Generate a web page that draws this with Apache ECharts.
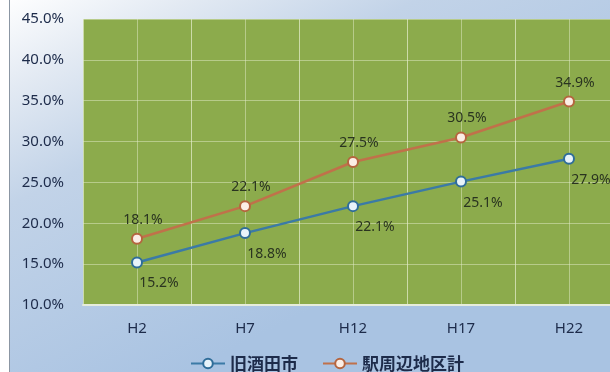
<!DOCTYPE html>
<html>
<head>
<meta charset="utf-8">
<script src="https://cdn.jsdelivr.net/npm/echarts@6/dist/echarts.min.js"></script>
<style>
  html, body { margin: 0; padding: 0; background: #fff; overflow: hidden; }
  #chart { width: 623px; height: 372px; }
</style>
</head>
<body>
<div id="chart"></div>
<script>
const years = ['H2', 'H7', 'H12', 'H17', 'H22'];
const oldSakata = [15.2, 18.8, 22.1, 25.1, 27.9];
const stationArea = [18.1, 22.1, 27.5, 30.5, 34.9];
const seriesNames = ['旧酒田市', '駅周辺地区計'];

const chart = echarts.init(document.getElementById('chart'));
const textFont = '"Noto Sans", "Open Sans", sans-serif';
const gridColor = 'rgba(225,235,200,0.5)';

const option = {
  backgroundColor: {
    type: 'linear', x: 0, y: 0, x2: 0.3, y2: 1,
    colorStops: [
      { offset: 0, color: '#ffffff' },
      { offset: 0.2, color: '#e3eaf3' },
      { offset: 0.45, color: '#c2d3e8' },
      { offset: 1, color: '#a9c3e2' }
    ]
  },
  animation: false,
  grid: {
    left: 83, top: 19, right: 0, bottom: 67,
    show: true, backgroundColor: '#8cab4c', borderWidth: 0
  },
  legend: {
    data: seriesNames,
    left: 185, top: 350,
    itemWidth: 34, itemHeight: 12, itemGap: 24,
    textStyle: {
      fontSize: 17, fontWeight: 'bold', color: '#1d2b4a',
      fontFamily: '"Noto Sans CJK JP", sans-serif'
    }
  },
  xAxis: [{
    type: 'category',
    data: years,
    boundaryGap: true,
    axisLine: { lineStyle: { color: '#e6eddb', width: 2 } },
    axisTick: { show: false },
    axisLabel: { margin: 16, fontSize: 15, color: '#1d2b4a', fontFamily: textFont },
    splitLine: { show: true, lineStyle: { color: gridColor, width: 1 } }
  }, {
    type: 'value',
    min: 0, max: 5, interval: 0.5,
    show: true,
    axisLine: { show: false },
    axisTick: { show: false },
    axisLabel: { show: false },
    splitLine: { show: true, lineStyle: { color: gridColor, width: 1 } }
  }],
  yAxis: {
    type: 'value',
    min: 10, max: 45, interval: 5,
    axisLine: { show: false },
    axisTick: { show: false },
    axisLabel: {
      margin: 19, fontSize: 15, color: '#1d2b4a', fontFamily: textFont,
      formatter: v => v.toFixed(1) + '%'
    },
    splitLine: { lineStyle: { color: gridColor, width: 1 } }
  },
  series: [{
    name: seriesNames[0],
    type: 'line',
    data: oldSakata,
    symbol: 'circle',
    symbolSize: 10,
    lineStyle: { color: '#3b7aa6', width: 2.5 },
    itemStyle: { color: '#e8f3fa', borderColor: '#2f6d99', borderWidth: 2 },
    label: {
      show: true, position: 'bottom', offset: [22, 3],
      fontSize: 14, color: '#2a3420', fontFamily: textFont,
      formatter: p => p.value.toFixed(1) + '%'
    },
    z: 3
  }, {
    name: seriesNames[1],
    type: 'line',
    data: stationArea,
    symbol: 'circle',
    symbolSize: 10,
    lineStyle: { color: '#c0714a', width: 2.5 },
    itemStyle: { color: '#fbeee6', borderColor: '#b5653f', borderWidth: 2 },
    label: {
      show: true, position: 'top', distance: 6, offset: [6, 0],
      fontSize: 14, color: '#2a3420', fontFamily: textFont,
      formatter: p => p.value.toFixed(1) + '%'
    },
    z: 3
  }],
  graphic: [{
    type: 'rect',
    shape: { x: 0, y: 0, width: 9, height: 372 },
    style: { fill: '#ffffff' },
    silent: true
  }, {
    type: 'line',
    shape: { x1: 9.5, y1: 0, x2: 9.5, y2: 372 },
    style: { stroke: '#8b96a3', lineWidth: 1 },
    silent: true
  }]
};

chart.setOption(option);
</script>
</body>
</html>
